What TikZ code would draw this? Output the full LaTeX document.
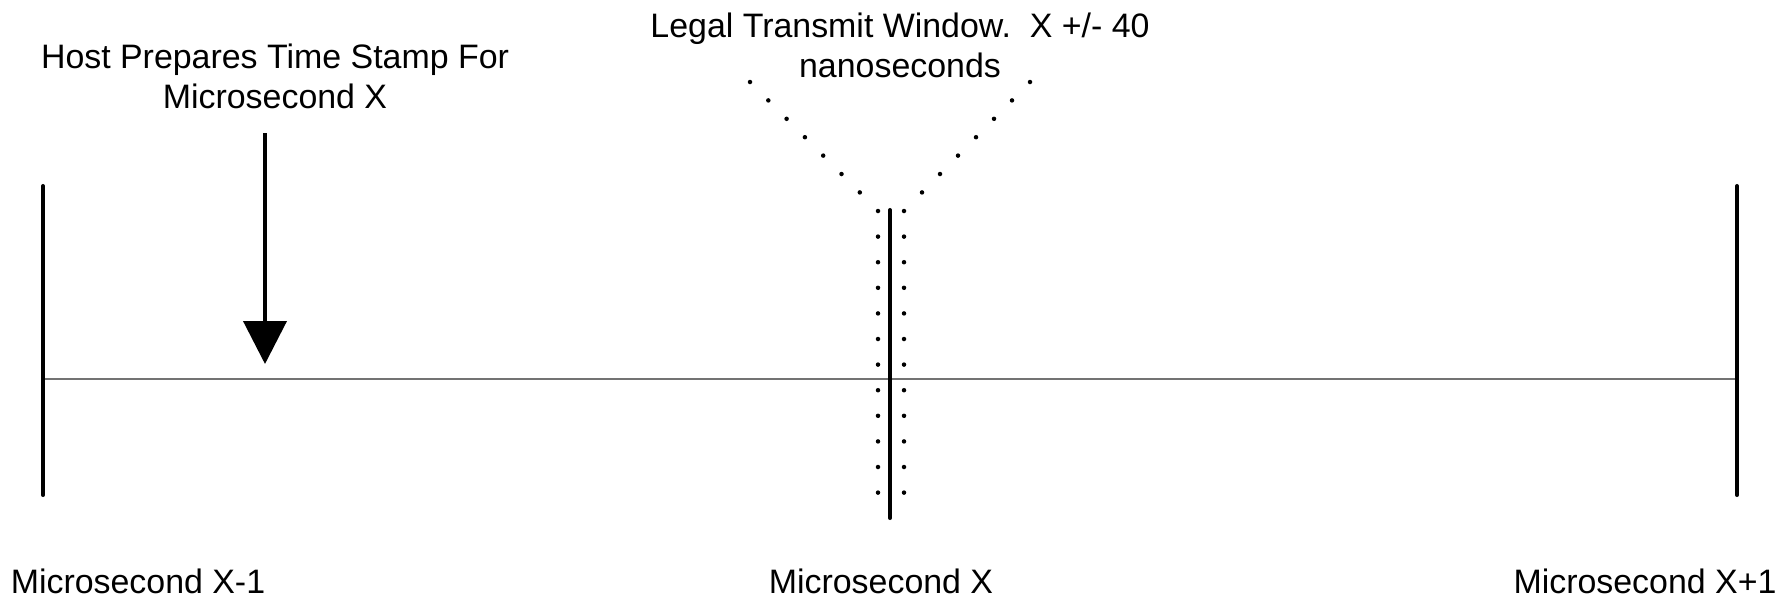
\documentclass[tikz,border=0pt]{standalone}
\usepackage{fontspec}
\setmainfont{Liberation Sans}
\usetikzlibrary{arrows.meta}
\tikzset{
  tick/.style={line width=2.3pt, line cap=round},
  axis/.style={line width=0.6pt, draw=black!55},
  dotmark/.style={fill=black},
  lbl/.style={font=\fontsize{19.3}{22.8}\selectfont, align=center, inner sep=0pt},
  harr/.style={-{Triangle[length=0.86cm, width=0.86cm]}, line width=2.3pt},
}

\begin{document}
\begin{tikzpicture}[x=0.02cm, y=-0.02cm]
  \useasboundingbox (0,0) rectangle (1789,600);

  % ---- tick marks and time axis ----
  \coordinate (lt) at (43,186);   \coordinate (lb) at (43,495);
  \coordinate (ct) at (890,210);  \coordinate (cb) at (890,518);
  \coordinate (rt) at (1737,186); \coordinate (rb) at (1737,495);
  \coordinate (al) at (43,379);   \coordinate (ar) at (1737,379);
  \draw[axis] (al) -- (ar);
  \draw[tick] (lt) -- (lb);
  \draw[tick] (ct) -- (cb);
  \draw[tick] (rt) -- (rb);

  % ---- legal window dots ----
  \foreach \i in {0,...,11}{
    \fill[dotmark] (878,211+25.6*\i) circle[radius=0.045cm];
    \fill[dotmark] (904,211+25.6*\i) circle[radius=0.045cm];
  }
  \foreach \i in {0,...,6}{
    \fill[dotmark] (750+18.3*\i,82+18.4*\i) circle[radius=0.045cm];
    \fill[dotmark] (1030-18*\i,82+18.4*\i) circle[radius=0.045cm];
  }

  % ---- host arrow ----
  \coordinate (htop) at (265,133);
  \coordinate (htip) at (265,364);
  \draw[harr] (htop) -- (htip);

  % ---- labels ----
  \node[lbl] (host)  at (275,76)  {Host Prepares Time Stamp For\\Microsecond X};
  \node[lbl] (legal) at (900,45)  {Legal Transmit Window.\ \ X +/- 40\\nanoseconds};
  \node[lbl] (usm1)  at (138,581) {Microsecond X-1};
  \node[lbl] (us)    at (881,581) {Microsecond X};
  \node[lbl] (usp1)  at (1645,581) {Microsecond X+1};
\end{tikzpicture}
\end{document}
